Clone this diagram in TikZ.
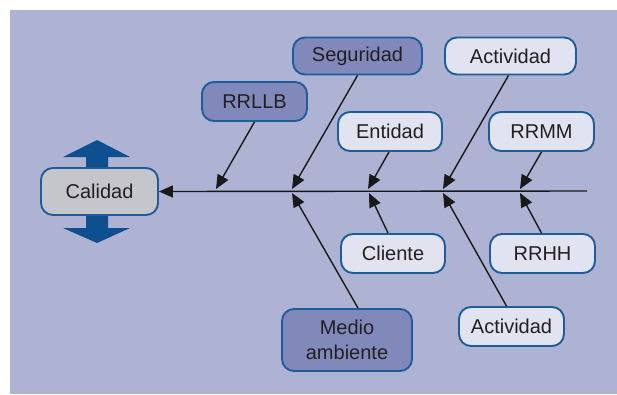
\documentclass[tikz,border=0pt]{standalone}
\usepackage{fontspec}
\setmainfont{Liberation Sans}
\usetikzlibrary{arrows.meta}
\definecolor{bgc}{HTML}{AEB3D3}
\definecolor{darkfill}{HTML}{8189BB}
\definecolor{lightfill}{HTML}{E1E3F0}
\definecolor{grayfill}{HTML}{C4C6CC}
\definecolor{edgec}{HTML}{1E5C9C}
\definecolor{bigarrow}{HTML}{0E4F8F}
\definecolor{txt}{HTML}{231F20}
\tikzset{
  box/.style={draw=edgec, line width=1.9pt, rounded corners=12pt, inner sep=0pt,
    text=txt, font=\fontsize{20}{24.5}\selectfont, align=center,
    minimum width=105pt, minimum height=39pt},
  darkbox/.style={box, fill=darkfill},
  lightbox/.style={box, fill=lightfill},
  conn/.style={draw=black!90, line width=1.4pt, -{Triangle[length=14pt,width=12pt]}},
}
\begin{document}
\begin{tikzpicture}[x=1pt,y=-1pt]
\useasboundingbox (0,0) rectangle (617,394);
\fill[bgc] (10,10) rectangle (617,394);
% big double arrow
\fill[bigarrow] (97,140) -- (130,157) -- (108,157) -- (108,228) -- (130,228) -- (97,243)
  -- (63,228) -- (86,228) -- (86,157) -- (63,157) -- cycle;
\node[box, fill=grayfill, minimum width=117pt, minimum height=47pt] (cal) at (99.5,191.5) {Calidad};
% nodes
\node[darkbox, minimum width=129pt, minimum height=37pt] (seg) at (357.5,56) {Seguridad};
\node[lightbox, minimum width=131pt, minimum height=37pt] (act1) at (510.5,56) {Actividad};
\node[darkbox] (rrllb) at (254.5,101.5) {RRLLB};
\node[lightbox, minimum width=104pt] (ent) at (390,131.5) {Entidad};
\node[lightbox] (rrmm) at (541.5,131.5) {RRMM};
\node[lightbox, minimum width=104pt] (cli) at (393,253.5) {Cliente};
\node[lightbox] (rrhh) at (542.5,253.5) {RRHH};
\node[darkbox, minimum width=130pt, minimum height=62pt] (med) at (347,340) {Medio\\ambiente};
\node[lightbox] (act2) at (511.5,326.5) {Actividad};
% spine
\coordinate (tail) at (587,191);
\draw[conn] (tail) -- (cal.east);
% spine attachment points
\coordinate (p1) at (216,189);
\coordinate (p2u) at (292,189);
\coordinate (p2d) at (292,193);
\coordinate (p3u) at (368,189);
\coordinate (p3d) at (369,193);
\coordinate (p4u) at (443,189);
\coordinate (p4d) at (443,193);
\coordinate (p5u) at (520,189);
\coordinate (p5d) at (520,193);
% branches
\draw[conn] (rrllb.south) -- (p1);
\draw[conn] (seg.south) -- (p2u);
\draw[conn] ([xshift=-1pt]ent.south) -- (p3u);
\draw[conn] ([xshift=-2pt]act1.south) -- (p4u);
\draw[conn] (rrmm.south) -- (p5u);
\draw[conn] ([xshift=11pt]med.north) -- (p2d);
\draw[conn] ([xshift=-5pt]cli.north) -- (p3d);
\draw[conn] ([xshift=-5pt]act2.north) -- (p4d);
\draw[conn] ([xshift=-1pt]rrhh.north) -- (p5d);
\end{tikzpicture}
\end{document}
